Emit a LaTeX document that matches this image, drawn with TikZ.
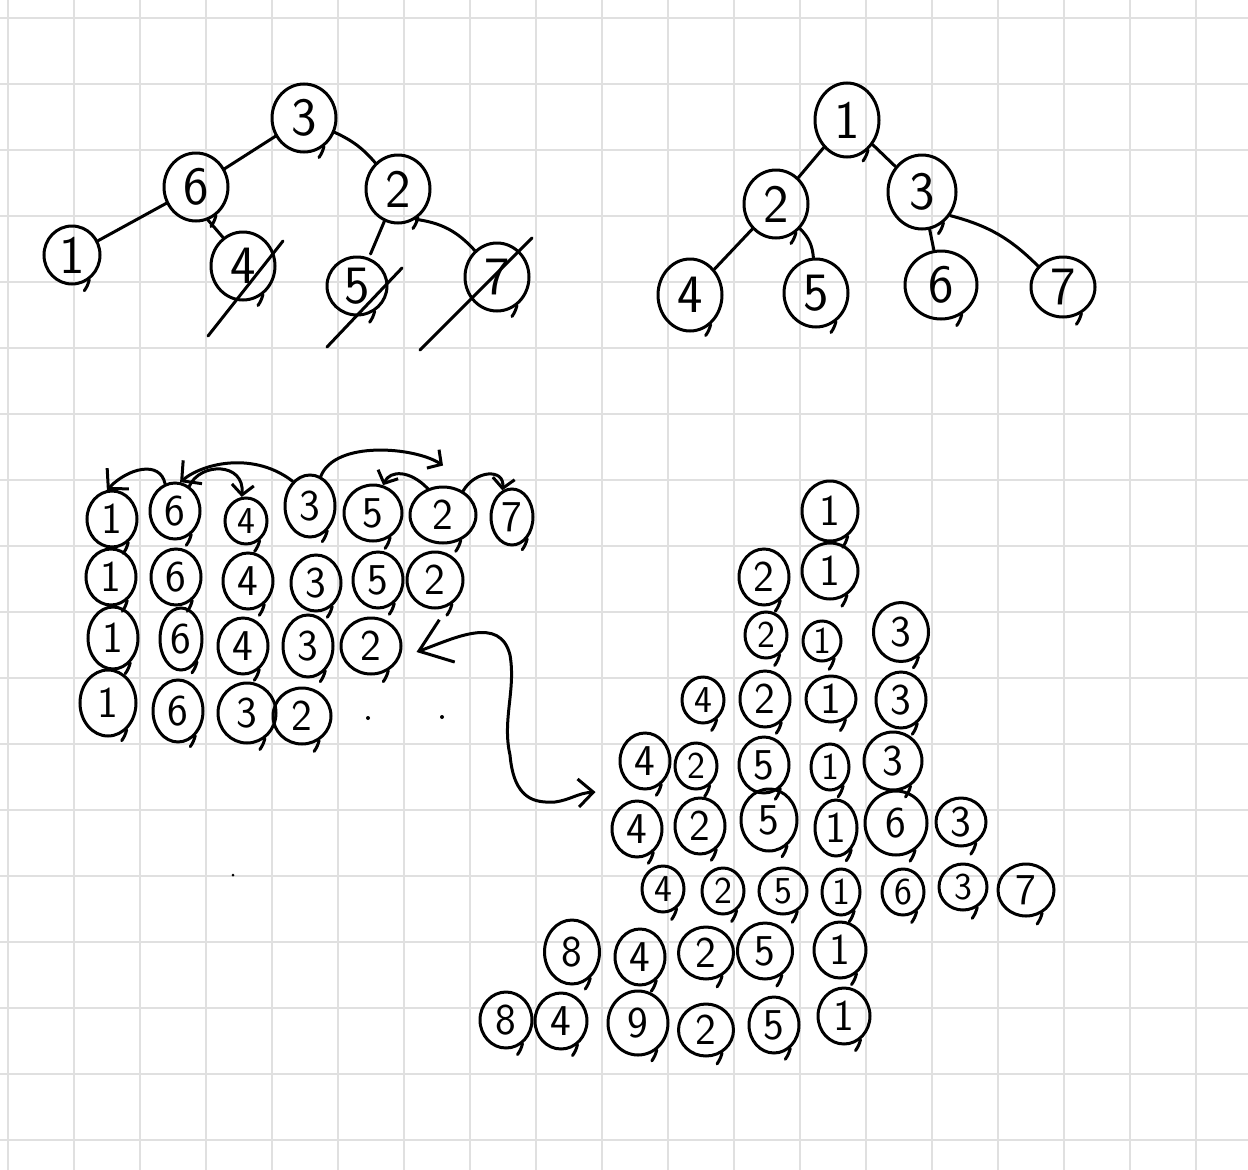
\documentclass[tikz,border=0pt]{standalone}
\usepackage{fontspec}
\usepackage{tikz}
\usetikzlibrary{arrows.meta,shapes.geometric}

\begin{document}
\begin{tikzpicture}[x=1pt, y=-1pt, line width=3pt, line cap=round,
    >={Straight Barb[length=10pt,width=22pt]},
    grid line/.style={draw=black!12, line width=2.5pt},
    num node/.style={ellipse, draw, inner sep=0pt, minimum width=50pt, minimum height=56pt,
        font=\sffamily\fontsize{44}{44}\selectfont,
        append after command={(\tikzlastnode.-55) edge[bend left=10] +(-5,11)}},
    small node/.style={num node, minimum width=42pt, minimum height=46pt, font=\sffamily\fontsize{38}{38}\selectfont},
    tree node/.style={num node, minimum width=64pt, minimum height=68pt, font=\sffamily\fontsize{54}{54}\selectfont},
    big tip/.style={-{Straight Barb[length=14pt,width=30pt]}}]

    \fill[white] (0,0) rectangle (1248,1170);
    \useasboundingbox (0,0) rectangle (1248,1170);
    \draw[grid line, step=66pt, shift={(8,18)}] (-8,1152) grid (1240,-18);

    % first tree
    \node[tree node] (a3) at (304,118) {3};
    \node[tree node] (a6) at (196,187) {6};
    \node[tree node] (a2) at (398,189) {2};
    \node[tree node, minimum width=56pt, minimum height=58pt] (a1) at (72,255) {1};
    \node[tree node] (a4) at (243,266) {4};
    \node[tree node, minimum width=60pt, minimum height=58pt] (a5) at (357,286) {5};
    \node[tree node] (a7) at (497,277) {7};

    \draw (a3) -- (a6);
    \draw (a3) to[bend left=12] (a2);
    \draw (a6) -- (a1);
    \draw (a6.-70) -- (a4.125);
    \draw[shorten >=4pt] (a2) -- (a5);
    \draw (a2.-60) to[bend left=20] (a7.130);
    \draw (a4.center) ++(-35,70) -- ++(75,-95);
    \draw (a5.center) ++(-30,61) -- ++(75,-79);
    \draw (a7.center) ++(-77,73) -- ++(112,-112);

    % second tree
    \node[tree node, minimum height=74pt] (b1) at (847,120) {1};
    \node[tree node] (b2) at (776,204) {2};
    \node[tree node, minimum width=68pt, minimum height=74pt] (b3) at (922,192) {3};
    \node[tree node, minimum height=72pt] (b4) at (690,295) {4};
    \node[tree node] (b5) at (816,293) {5};
    \node[tree node, minimum width=72pt] (b6) at (941,285) {6};
    \node[tree node, minimum height=60pt] (b7) at (1063,287) {7};

    \draw (b1) -- (b2);
    \draw (b1) -- (b3);
    \draw (b2) -- (b4);
    \draw (b2) to[bend left=20] (b5);
    \draw (b3) -- (b6);
    \draw (b3.-40) to[bend left=15] (b7.140);

    % array rows
    \node[num node] (r11) at (112,519) {1};
    \node[num node] (r12) at (175,511) {6};
    \node[small node] (r13) at (246,521) {4};
    \node[num node, minimum height=62pt] (r14) at (310,506) {3};
    \node[num node, minimum width=58pt] (r15) at (373,513) {5};
    \node[num node, minimum width=66pt] (r16) at (443,515) {2};
    \node[num node, minimum width=42pt] (r17) at (512,517) {7};

    \node[num node] (r21) at (111,577) {1};
    \node[num node] (r22) at (176,577) {6};
    \node[num node] (r23) at (248,581) {4};
    \node[num node] (r24) at (316,583) {3};
    \node[num node] (r25) at (378,580) {5};
    \node[num node, minimum width=56pt] (r26) at (435,580) {2};

    \node[num node, minimum height=62pt] (r31) at (113,638) {1};
    \node[num node, minimum width=42pt, minimum height=62pt] (r32) at (181,639) {6};
    \node[num node] (r33) at (243,646) {4};
    \node[num node, minimum height=62pt] (r34) at (308,646) {3};
    \node[num node, minimum width=60pt] (r35) at (371,646) {2};

    \node[num node, minimum width=56pt, minimum height=66pt] (r41) at (108,703) {1};
    \node[num node, minimum height=62pt] (r42) at (178,711) {6};
    \node[num node, minimum width=58pt, minimum height=60pt] (r43) at (247,713) {3};
    \node[num node, minimum width=58pt] (r44) at (302,716) {2};

    \draw[big tip] (r12.110) .. controls (160,460) and (128,468) .. (r11.100);
    \draw[->] (r12.60) .. controls (200,462) and (245,462) .. (r13.100);
    \draw[big tip] (r14.125) .. controls (255,452) and (205,462) .. (r12.80);
    \draw[->] (r14.70) .. controls (335,440) and (415,447) .. ([yshift=20pt]r16.north);
    \draw[->] (r16.120) .. controls (410,470) and (390,470) .. (r15.70);
    \draw[->] (r16.50) .. controls (475,470) and (505,468) .. (r17.110);

    \fill (368,718) circle[radius=2pt];
    \fill (442,717) circle[radius=2pt];
    \fill (233,875) circle[radius=1.5pt];

    % insertion steps
    \node[num node, minimum width=56pt, minimum height=60pt] (s11) at (830,511) {1};

    \node[num node] (s21) at (764,577) {2};
    \node[num node, minimum width=56pt] (s22) at (830,571) {1};

    \node[small node] (s31) at (766,635) {2};
    \node[small node, minimum width=38pt, minimum height=40pt] (s32) at (822,641) {1};
    \node[num node, minimum width=55pt, minimum height=59pt] (s33) at (901,632) {3};

    \node[small node] (s41) at (703,700) {4};
    \node[num node] (s42) at (765,699) {2};
    \node[num node, minimum height=46pt] (s43) at (831,699) {1};
    \node[num node] (s44) at (901,700) {3};

    \node[num node] (s51) at (645,761) {4};
    \node[small node] (s52) at (696,766) {2};
    \node[num node] (s53) at (764,765) {5};
    \node[small node, minimum width=38pt] (s54) at (830,767) {1};
    \node[num node, minimum width=58pt, minimum height=58pt] (s55) at (893,761) {3};

    \node[num node] (s61) at (637,829) {4};
    \node[num node] (s62) at (700,826) {2};
    \node[num node, minimum width=56pt, minimum height=62pt] (s63) at (769,820) {5};
    \node[num node, minimum width=42pt] (s64) at (836,828) {1};
    \node[num node, minimum width=62pt, minimum height=64pt] (s65) at (896,823) {6};
    \node[num node, minimum height=48pt] (s66) at (961,822) {3};

    \node[small node] (s71) at (663,889) {4};
    \node[small node] (s72) at (723,891) {2};
    \node[small node, minimum width=48pt] (s73) at (783,891) {5};
    \node[small node, minimum width=38pt] (s74) at (841,892) {1};
    \node[small node] (s75) at (903,892) {6};
    \node[small node, minimum width=48pt] (s76) at (963,887) {3};
    \node[num node, minimum width=56pt, minimum height=52pt] (s77) at (1026,890) {7};

    \node[num node, minimum width=55pt, minimum height=64pt] (s81) at (572,952) {8};
    \node[num node] (s82) at (640,957) {4};
    \node[num node, minimum width=55pt, minimum height=52pt] (s83) at (706,953) {2};
    \node[num node, minimum width=55pt] (s84) at (765,951) {5};
    \node[num node, minimum width=52pt] (s85) at (840,950) {1};

    \node[num node, minimum width=52pt] (s91) at (506,1020) {8};
    \node[num node, minimum width=52pt] (s92) at (561,1021) {4};
    \node[num node, minimum width=60pt, minimum height=64pt] (s93) at (638,1023) {9};
    \node[num node, minimum width=55pt, minimum height=52pt] (s94) at (706,1030) {2};
    \node[num node] (s95) at (774,1025) {5};
    \node[num node, minimum width=52pt] (s96) at (844,1016) {1};

    \draw[{Straight Barb[length=30pt,width=45pt]}-{Straight Barb[length=15pt,width=28pt]}]
        ([xshift=14pt,yshift=-6pt]r35.east) .. controls (455,638) and (500,615) .. (510,655)
        .. controls (516,690) and (502,720) .. (510,755)
        .. controls (514,800) and (535,803) .. (555,802)
        .. controls (570,800) and (578,793) .. ([xshift=-23pt,yshift=-31pt]s51.west);
\end{tikzpicture}
\end{document}
